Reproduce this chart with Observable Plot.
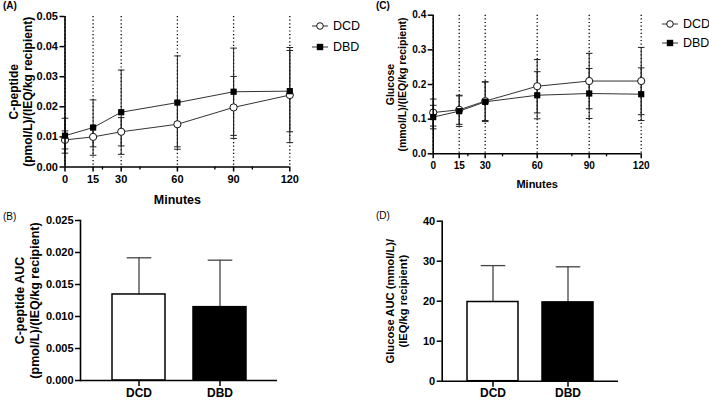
<!DOCTYPE html>
<html>
<head>
<meta charset="utf-8">
<script src="https://cdn.jsdelivr.net/npm/d3@7"></script>
<script src="https://cdn.jsdelivr.net/npm/@observablehq/plot@0.6"></script>
<style>
  body { margin: 0; background: #fff; font-family: "Liberation Sans", Arial, sans-serif; }
  #fig { position: relative; width: 709px; height: 401px; overflow: hidden; background: #fff; }
  .panel { position: absolute; }
  .panel svg { display: block; }
  .tag { position: absolute; font-size: 10px; line-height: 10px; }
  .leg { position: absolute; font-size: 12.5px; line-height: 14px; display: flex; align-items: center; gap: 5px; }
</style>
</head>
<body>
<div id="fig"></div>
<script>
// time points (minutes) and groups
const minutes = [0, 15, 30, 60, 90, 120];
const minorMinutes = [20, 40, 80, 100];
const groups = ["DCD", "DBD"];

// (A) C-peptide, mean and SD
const cpepDCD   = [0.0090, 0.0100, 0.0117, 0.0142, 0.0198, 0.0239];
const cpepDCDsd = [0.0030, 0.0033, 0.0047, 0.0075, 0.0103, 0.0158];
const cpepDBD   = [0.0104, 0.0131, 0.0182, 0.0214, 0.0250, 0.0252];
const cpepDBDsd = [0.0058, 0.0092, 0.0140, 0.0155, 0.0145, 0.0135];

// (C) glucose, mean and SD
const gluDCD   = [0.119, 0.127, 0.152, 0.195, 0.210, 0.210];
const gluDCDsd = [0.039, 0.042, 0.056, 0.077, 0.080, 0.097];
const gluDBD   = [0.106, 0.123, 0.150, 0.169, 0.174, 0.172];
const gluDBDsd = [0.034, 0.044, 0.057, 0.068, 0.072, 0.076];

// (B) and (D) AUC, mean and SD (DCD, DBD)
const cpepAUC   = [0.01344, 0.01146];
const cpepAUCsd = [0.00573, 0.00734];
const gluAUC    = [19.8, 19.7];
const gluAUCsd  = [9.1, 8.9];

// tick values
const cpepTicks = [0, 0.01, 0.02, 0.03, 0.04, 0.05];
const gluTicks = [0, 0.1, 0.2, 0.3, 0.4];
const cpepAUCTicks = [0, 0.005, 0.01, 0.015, 0.02, 0.025];
const gluAUCTicks = [0, 10, 20, 30, 40];

const fig = document.getElementById("fig");

// horizontal cap for error bars
const cap = {
  draw(ctx, size) {
    const r = Math.sqrt(size / Math.PI);
    ctx.moveTo(-r, 0);
    ctx.lineTo(r, 0);
  }
};

function place(node, left, top) {
  const div = document.createElement("div");
  div.className = "panel";
  div.style.left = left + "px";
  div.style.top = top + "px";
  div.append(node);
  fig.append(div);
}

function tag(text, left, top, bold) {
  const d = document.createElement("div");
  d.className = "tag";
  d.textContent = text;
  d.style.left = left + "px";
  d.style.top = top + "px";
  d.style.fontWeight = bold ? "bold" : "normal";
  fig.append(d);
}

function legend(left, top, gap) {
  const items = [
    {name: "DCD", sym: '<circle cx="8" cy="5" r="3.3" fill="white" stroke="#111" stroke-width="1"/>'},
    {name: "DBD", sym: '<rect x="4.8" y="1.8" width="6.4" height="6.4" fill="black"/>'}
  ];
  items.forEach((it, i) => {
    const d = document.createElement("div");
    d.className = "leg";
    d.style.left = left + "px";
    d.style.top = (top + i * gap) + "px";
    d.innerHTML = '<svg width="16" height="10"><line x1="0" x2="16" y1="5" y2="5" stroke="#333" stroke-width="1"/>' + it.sym + '</svg><span>' + it.name + '</span>';
    fig.append(d);
  });
}

function linePanel(o) {
  const rows = minutes.flatMap((t, i) => [
    {t, g: "DCD", v: o.dcd[i], sd: o.dcdSd[i]},
    {t, g: "DBD", v: o.dbd[i], sd: o.dbdSd[i]}
  ]);
  return Plot.plot({
    width: o.width, height: o.height,
    marginLeft: o.mL, marginRight: o.mR, marginTop: o.mT, marginBottom: o.mB,
    style: {fontFamily: "Liberation Sans, Arial, sans-serif", color: "black", background: "transparent", overflow: "visible"},
    x: {domain: [0, 120], axis: null},
    y: {domain: o.yDomain, axis: null},
    marks: [
      Plot.ruleX(minutes, {stroke: "black", strokeWidth: 1.3, strokeDasharray: "1.2,2.4"}),
      Plot.ruleX(rows, {x: "t", y1: d => d.v - d.sd, y2: d => d.v + d.sd, stroke: "#222", strokeWidth: 1}),
      Plot.dot(rows, {x: "t", y: d => d.v + d.sd, symbol: cap, r: 3.3, stroke: "#222", strokeWidth: 1}),
      Plot.dot(rows, {x: "t", y: d => d.v - d.sd, symbol: cap, r: 3.3, stroke: "#222", strokeWidth: 1}),
      Plot.line(rows, {x: "t", y: "v", z: "g", stroke: "#333", strokeWidth: 1}),
      Plot.dot(rows.filter(d => d.g === "DCD"), {x: "t", y: "v", symbol: "circle", r: 3.6, fill: "white", stroke: "#111", strokeWidth: 1}),
      Plot.dot(rows.filter(d => d.g === "DBD"), {x: "t", y: "v", symbol: "square", r: 3.5, fill: "black"}),
      Plot.ruleX([0], {stroke: "black", strokeWidth: 1.6}),
      Plot.ruleY([0], {stroke: "black", strokeWidth: 1.6}),
      Plot.axisY({ticks: o.yTicks, tickFormat: o.yFmt, tickSize: 5, tickPadding: 2, strokeWidth: 1.5, fontSize: o.tickFont, fontWeight: "bold", label: null}),
      Plot.axisX({ticks: minutes, tickFormat: d => d, tickSize: 5, tickPadding: o.xPad, strokeWidth: 1.5, fontSize: o.tickFont, fontWeight: "bold", label: null}),
      Plot.axisX({ticks: minorMinutes, tickFormat: () => "", tickSize: 3, strokeWidth: 1.3, label: null}),
      Plot.text([o.title], {frameAnchor: "left", textAnchor: "middle", lineAnchor: "middle", rotate: -90, dx: o.titleDx, fontSize: o.titleFont, fontWeight: "bold", lineHeight: 1.18}),
      Plot.text(["Minutes"], {frameAnchor: "bottom", dy: o.minDy, fontSize: o.titleFont + 0.5, fontWeight: "bold", lineAnchor: "middle"})
    ]
  });
}

function barPanel(o) {
  const rows = groups.map((g, i) => ({g, v: o.vals[i], sd: o.sds[i]}));
  return Plot.plot({
    width: o.width, height: o.height,
    marginLeft: o.mL, marginRight: o.mR, marginTop: o.mT, marginBottom: o.mB,
    style: {fontFamily: "Liberation Sans, Arial, sans-serif", color: "black", background: "transparent", overflow: "visible"},
    x: {domain: groups, paddingInner: o.pIn, paddingOuter: o.pOut, axis: null},
    y: {domain: o.yDomain, axis: null},
    color: {domain: groups, range: ["white", "black"]},
    marks: [
      Plot.ruleX(rows, {x: "g", y1: "v", y2: d => d.v + d.sd, stroke: "#444", strokeWidth: 1.3}),
      Plot.dot(rows, {x: "g", y: d => d.v + d.sd, symbol: cap, r: 12.3, stroke: "#444", strokeWidth: 1.3}),
      Plot.barY(rows, {x: "g", y: "v", fill: "g", stroke: "black", strokeWidth: 1.5}),
      Plot.frame({anchor: "left", stroke: "black", strokeWidth: 1.6}),
      Plot.ruleY([0], {stroke: "black", strokeWidth: 1.6}),
      Plot.axisY({ticks: o.yTicks, tickFormat: o.yFmt, tickSize: 5, tickPadding: 2, strokeWidth: 1.5, fontSize: o.tickFont, fontWeight: "bold", label: null}),
      Plot.axisX({tickSize: 6, tickPadding: 1.5, strokeWidth: 1.5, fontSize: 12, fontWeight: "bold", label: null}),
      Plot.text([o.title], {frameAnchor: "left", textAnchor: "middle", lineAnchor: "middle", rotate: -90, dx: o.titleDx, fontSize: o.titleFont, fontWeight: "bold", lineHeight: 1.18})
    ]
  });
}

// (A)
place(linePanel({
  width: 300, height: 205, mL: 64.5, mR: 10.7, mT: 16, mB: 38.5,
  yDomain: [0, 0.05], yTicks: cpepTicks, yFmt: d => d.toFixed(2),
  dcd: cpepDCD, dcdSd: cpepDCDsd, dbd: cpepDBD, dbdSd: cpepDBDsd,
  tickFont: 11, titleFont: 12, titleDx: -44.5, xPad: 3, minDy: 32.5,
  title: "C-peptide\n(pmol/L)/(IEQ/kg recipient)"
}), 0, 0);

// (C)
place(linePanel({
  width: 300, height: 190, mL: 77.7, mR: 14.3, mT: 14.7, mB: 36.7,
  yDomain: [0, 0.4], yTicks: gluTicks, yFmt: d => d.toFixed(1),
  dcd: gluDCD, dcdSd: gluDCDsd, dbd: gluDBD, dbdSd: gluDBDsd,
  tickFont: 10, titleFont: 10.5, titleDx: -37.2, xPad: 3, minDy: 30.7,
  title: "Glucose\n(mmol/L)/(IEQ/kg recipient)"
}), 355, 0);

// (B)
place(barPanel({
  width: 300, height: 196, mL: 80, mR: 23, mT: 15, mB: 21,
  yDomain: [0, 0.025], yTicks: cpepAUCTicks, yFmt: d => d.toFixed(3),
  vals: cpepAUC, sds: cpepAUCsd, pIn: 0.35, pOut: 0.39,
  tickFont: 11, titleFont: 12.5, titleDx: -53.5,
  title: "C-peptide AUC\n(pmol/L)/(IEQ/kg recipient)"
}), 0, 205);

// (D)
place(barPanel({
  width: 300, height: 196, mL: 86.7, mR: 37, mT: 15.7, mB: 20.3,
  yDomain: [0, 40], yTicks: gluAUCTicks, yFmt: d => d,
  vals: gluAUC, sds: gluAUCsd, pIn: 0.32, pOut: 0.33,
  tickFont: 11, titleFont: 11.2, titleDx: -46.2,
  title: "Glucose AUC (mmol/L)/\n(IEQ/kg recipient)"
}), 355, 205);

tag("(A)", 3, 1, true);
tag("(C)", 376, 1, true);
tag("(B)", 3, 212, false);
tag("(D)", 376, 211, false);

legend(312, 19, 21);
legend(662, 17, 19);
</script>
</body>
</html>
